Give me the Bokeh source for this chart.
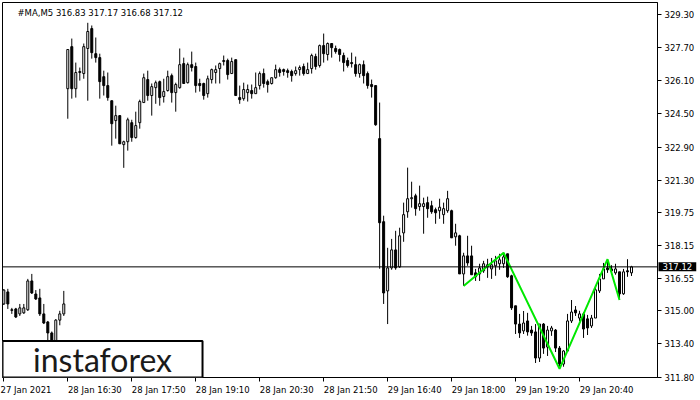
from bokeh.plotting import figure
from bokeh.models import (Range1d, FixedTicker, PrintfTickFormatter, Span, Label,
                          ColumnDataSource, BoxAnnotation)
from bokeh.embed import file_html
from bokeh.resources import INLINE

symbol = "#MA,M5"

opens = [
    315.33, 315.91, 315.05, 315.09, 314.85, 314.90, 315.05, 316.44, 315.81, 315.62,
    314.85, 314.46, 313.93, 313.30, 314.55, 314.85, 325.72, 327.75, 325.72, 326.50,
    326.45, 327.66, 328.62, 327.41, 327.22, 326.30, 325.87, 325.14, 324.18, 324.42,
    323.02, 323.16, 324.08, 323.36, 324.08, 325.05, 326.16, 325.39, 325.77, 326.06,
    325.34, 325.63, 326.35, 325.53, 325.77, 326.93, 326.01, 326.88, 326.79, 325.97,
    325.97, 325.48, 326.16, 326.50, 326.69, 327.03, 327.08, 326.45, 327.12, 325.29,
    325.24, 325.53, 325.63, 325.48, 325.87, 326.45, 326.06, 325.97, 326.25, 326.64,
    326.64, 326.59, 326.55, 326.45, 326.64, 326.79, 326.45, 326.69, 327.27, 326.84,
    327.80, 327.37, 327.90, 327.66, 327.61, 327.32, 327.08, 326.98, 326.88, 326.45,
    326.88, 326.45, 325.92, 325.87, 323.31, 319.30, 315.96, 317.07, 317.94, 317.12,
    318.76, 319.78, 320.41, 320.55, 320.03, 320.03, 320.22, 320.07, 319.88, 319.83,
    319.64, 319.83, 319.83, 318.57, 318.62, 316.78, 317.65, 317.65, 316.83, 316.78,
    316.93, 317.22, 317.02, 317.17, 317.27, 317.27, 317.75, 316.69, 315.24, 314.36,
    314.03, 314.51, 314.07, 313.98, 312.72, 314.36, 313.25, 314.03, 314.07, 313.20,
    312.43, 313.06, 314.51, 315.04, 314.65, 314.85, 314.61, 314.27, 314.65, 315.96,
    316.54, 317.07, 317.02, 316.83, 316.88, 315.82, 316.93, 316.83]

highs = [
    316.05, 316.06, 315.14, 315.14, 315.33, 315.33, 316.54, 316.78, 316.00, 316.06,
    315.33, 314.51, 314.00, 314.60, 315.00, 315.96, 327.61, 328.14, 326.98, 326.74,
    327.90, 328.90, 328.77, 328.19, 327.41, 326.59, 326.50, 325.14, 324.90, 324.42,
    323.21, 324.32, 324.22, 324.61, 325.19, 326.45, 326.59, 325.97, 326.11, 326.11,
    326.20, 326.59, 326.45, 326.01, 327.66, 327.22, 326.98, 327.51, 326.98, 326.20,
    326.01, 326.35, 326.69, 326.84, 326.98, 327.32, 327.17, 327.22, 327.12, 325.87,
    326.01, 325.92, 325.92, 326.50, 326.55, 326.69, 326.16, 326.25, 326.88, 326.74,
    326.69, 326.69, 326.64, 326.79, 326.84, 326.93, 326.98, 327.41, 327.41, 327.85,
    328.38, 327.95, 327.90, 327.80, 327.66, 327.46, 327.22, 327.46, 327.27, 326.93,
    327.08, 326.55, 326.16, 325.87, 325.05, 319.59, 318.04, 318.47, 318.86, 319.01,
    320.22, 321.91, 321.23, 320.65, 321.04, 320.46, 320.51, 320.31, 319.98, 320.41,
    320.22, 320.79, 319.88, 319.20, 318.67, 317.80, 318.62, 318.14, 317.02, 317.27,
    317.41, 317.51, 317.55, 317.65, 317.75, 317.80, 317.75, 316.74, 315.24, 314.85,
    314.99, 314.90, 314.27, 314.36, 314.36, 314.41, 314.27, 314.27, 314.12, 313.30,
    313.10, 314.85, 315.52, 315.23, 315.00, 314.94, 314.80, 314.80, 316.20, 316.78,
    317.31, 317.49, 317.20, 317.27, 316.88, 317.02, 317.49, 317.17]

lows = [
    315.28, 315.09, 314.85, 314.65, 314.75, 314.85, 314.99, 315.81, 315.52, 314.75,
    314.36, 313.54, 313.10, 313.20, 314.30, 314.75, 324.27, 325.24, 325.29, 326.11,
    326.20, 325.14, 327.17, 326.98, 325.24, 325.39, 325.14, 322.97, 323.31, 323.06,
    321.90, 322.73, 323.16, 323.31, 323.79, 325.05, 325.14, 324.42, 324.99, 324.90,
    325.05, 325.58, 325.05, 324.61, 325.72, 325.97, 325.97, 326.55, 325.53, 325.58,
    325.19, 325.29, 325.97, 325.97, 325.97, 326.84, 326.16, 326.45, 325.39, 324.99,
    325.14, 325.10, 325.24, 325.48, 325.68, 325.77, 325.53, 325.92, 326.20, 326.30,
    326.35, 326.25, 326.06, 326.35, 326.35, 326.35, 326.45, 326.45, 326.64, 326.74,
    326.98, 327.08, 327.22, 327.41, 327.03, 326.55, 326.74, 326.74, 326.30, 326.25,
    325.97, 325.72, 325.29, 323.93, 317.03, 315.33, 314.36, 316.98, 316.98, 317.07,
    318.33, 319.49, 319.98, 319.59, 319.83, 318.72, 319.49, 319.68, 319.20, 319.44,
    319.20, 319.73, 318.52, 318.14, 316.78, 316.20, 317.17, 316.74, 316.44, 316.44,
    316.83, 316.59, 316.54, 316.69, 316.98, 317.07, 316.59, 315.04, 313.88, 313.69,
    313.88, 313.80, 313.79, 312.48, 312.53, 312.92, 312.82, 313.79, 313.01, 312.20,
    312.30, 313.01, 314.41, 314.75, 314.50, 313.69, 313.83, 314.17, 314.65, 315.86,
    316.54, 316.83, 316.78, 316.74, 315.52, 315.77, 316.64, 316.68]

closes = [
    316.00, 315.33, 315.02, 314.70, 315.14, 315.14, 316.44, 315.86, 315.57, 314.85,
    314.41, 313.93, 313.30, 314.55, 314.85, 315.33, 327.61, 325.72, 326.50, 326.55,
    327.75, 328.48, 327.46, 327.22, 326.06, 325.87, 325.29, 324.03, 324.42, 323.06,
    323.16, 324.22, 323.36, 323.94, 325.10, 326.25, 325.39, 325.82, 326.01, 325.29,
    325.58, 326.30, 325.53, 325.92, 326.88, 325.97, 326.88, 326.74, 325.87, 325.87,
    325.39, 326.20, 326.64, 326.64, 326.93, 327.08, 326.40, 327.03, 325.39, 325.19,
    325.68, 325.68, 325.48, 325.77, 326.45, 325.97, 325.92, 326.25, 326.64, 326.50,
    326.55, 326.50, 326.35, 326.59, 326.74, 326.45, 326.64, 327.32, 326.79, 327.80,
    327.41, 327.90, 327.70, 327.51, 327.37, 326.98, 326.84, 326.93, 326.45, 326.88,
    326.35, 325.87, 325.82, 323.98, 319.25, 315.86, 317.07, 317.94, 317.07, 318.62,
    319.64, 320.41, 320.46, 319.93, 320.17, 320.17, 319.93, 319.78, 319.73, 320.00,
    319.93, 320.41, 318.52, 318.76, 316.78, 317.65, 317.31, 316.74, 316.64, 317.07,
    317.27, 317.12, 317.22, 317.41, 317.46, 317.60, 316.64, 315.14, 314.36, 313.93,
    314.41, 313.98, 313.93, 312.72, 314.36, 313.20, 314.07, 314.17, 313.20, 312.43,
    313.06, 314.51, 314.94, 314.90, 314.85, 314.12, 314.17, 314.65, 316.01, 316.54,
    317.02, 316.98, 316.93, 317.02, 315.82, 316.88, 316.88, 317.12]

# time axis: bar index of each label and its text
tick_idx = [0, 16, 32, 48, 64, 80, 96, 112, 128, 144]
tick_labels = ["27 Jan 2021", "28 Jan 16:30", "28 Jan 17:50", "28 Jan 19:10",
               "28 Jan 20:30", "28 Jan 21:50", "29 Jan 16:40", "29 Jan 18:00",
               "29 Jan 19:20", "29 Jan 20:40"]

price_ticks = [329.30, 327.70, 326.10, 324.50, 322.90, 321.30, 319.75,
               318.15, 316.55, 315.00, 313.40, 311.80]

# zigzag pattern pivots (bar index, price)
zz_idx = [115, 125, 139, 151, 154]
zz_price = [316.20, 317.80, 312.20, 317.49, 315.52]

FONT = "DejaVu Sans"
FS = "8.5px"

# approximate DejaVu Sans advance widths (em) to left-align centred axis labels
_W = {c: 0.636 for c in "0123456789"}
_W.update({" ": 0.318, "J": 0.295, "a": 0.613, "n": 0.634, ":": 0.337})
NBSP = "\u00a0"


def left_aligned(t):
    w = sum(_W.get(ch, 0.6) for ch in t)
    return NBSP * int(round(w / 0.318)) + t


# the first label sits at the left edge, where Bokeh keeps it inside the canvas
x_tick_text = [tick_labels[0]] + [left_aligned(t) for t in tick_labels[1:]]

n = len(opens)
idx = list(range(n))
up = [c >= o for o, c in zip(opens, closes)]
src = ColumnDataSource(dict(
    x=idx, o=opens, h=highs, l=lows, c=closes,
    top=[max(o, c) for o, c in zip(opens, closes)],
    bot=[min(o, c) for o, c in zip(opens, closes)],
    fill=["white" if u else "black" for u in up],
))

x_lo, x_hi = -0.33, 163.5
y_lo, y_hi = 311.78, 329.88

p = figure(frame_width=655, frame_height=375, output_backend="svg",
           toolbar_location=None, x_range=Range1d(x_lo, x_hi),
           y_range=Range1d(y_lo, y_hi), y_axis_location="right",
           min_border_left=2, min_border_top=2, min_border_bottom=0,
           min_border_right=0)
p.background_fill_color = "white"
p.border_fill_color = "white"
p.outline_line_color = "black"
p.outline_line_width = 1
p.grid.visible = False

p.segment(x0="x", y0="l", x1="x", y1="h", source=src, line_color="black", line_width=1)
p.vbar(x="x", top="top", bottom="bot", width=0.5, source=src,
       fill_color="fill", line_color="black", line_width=1)

p.line(zz_idx, zz_price, line_color="#00e800", line_width=2)

p.add_layout(Span(location=closes[-1], dimension="width", line_color="black", line_width=1))

# axes
xa = p.xaxis[0]
xa.ticker = FixedTicker(ticks=tick_idx)
xa.major_label_overrides = {i: t for i, t in zip(tick_idx, x_tick_text)}
xa.major_label_text_font = FONT
xa.major_label_text_font_size = FS
xa.major_label_text_color = "black"
xa.major_label_standoff = 3
xa.major_tick_out = 4
xa.major_tick_in = 0
xa.minor_tick_out = 0
xa.minor_tick_in = 0
xa.axis_line_color = "black"

ya = p.yaxis[0]
ya.ticker = FixedTicker(ticks=price_ticks)
ya.formatter = PrintfTickFormatter(format="%.2f")
ya.major_label_text_font = FONT
ya.major_label_text_font_size = FS
ya.major_label_text_color = "black"
ya.major_tick_out = 4
ya.major_tick_in = 0
ya.minor_tick_out = 0
ya.minor_tick_in = 0
ya.major_label_standoff = 3
ya.axis_line_color = "black"

# header
hdr = f"{symbol}  {opens[-1]:.2f} {highs[-1]:.2f} {lows[-1]:.2f} {closes[-1]:.2f}"
p.add_layout(Label(x=x_lo, y=y_hi, text=hdr, x_offset=15, y_offset=-5,
                   text_baseline="top", text_align="left", text_font=FONT,
                   text_font_size=FS, text_color="black"))

# current price tag, drawn from the right-hand panel over the price scale
p.add_layout(Label(x=x_hi, y=closes[-1], text=f"{closes[-1]:.2f}", x_offset=1,
                   text_align="left", text_baseline="middle", text_font=FONT,
                   text_font_size=FS, text_color="white",
                   background_fill_color="black", padding=(4, 1)), "right")

# logo box
box_top = 313.54
box_right = 49.7
p.add_layout(BoxAnnotation(left=x_lo, right=box_right, bottom=y_lo, top=box_top,
                           fill_color="white", fill_alpha=1.0,
                           line_color="black", line_width=2, line_alpha=1.0))
p.add_layout(Label(x=(x_lo + box_right) / 2, y=(y_lo + box_top) / 2, text="instaforex",
                   text_align="center", text_baseline="middle", text_font="Lato",
                   text_font_size="32px", text_color="#1a1a1a"))

open("out.html", "w").write(file_html(p, INLINE))
